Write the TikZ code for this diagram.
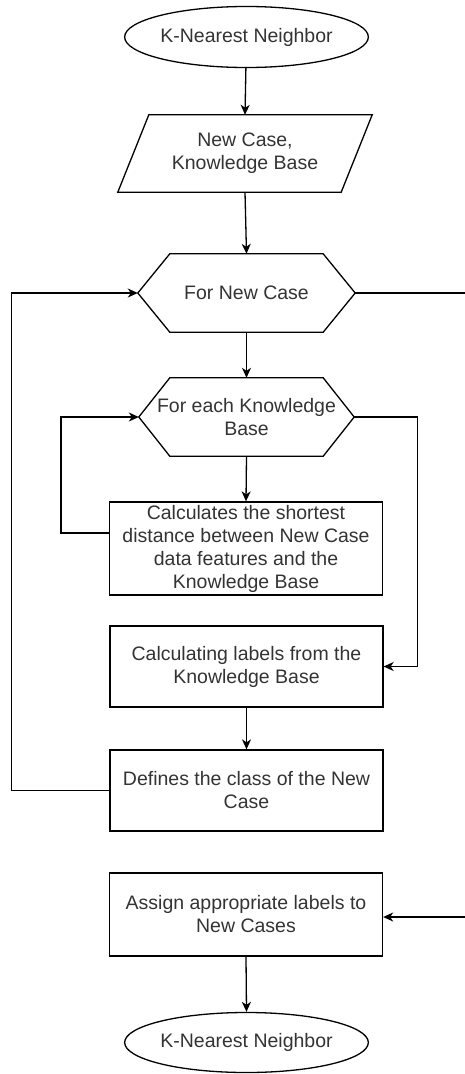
\documentclass[tikz,border=0pt]{standalone}
\usepackage{fontspec}
\setmainfont{Liberation Sans}
\usetikzlibrary{arrows.meta,shapes.geometric,calc}
\definecolor{txt}{HTML}{333333}
\begin{document}
\begin{tikzpicture}[x=1pt,y=-1pt,
  every node/.style={font=\fontsize{19.5}{23}\selectfont, text=txt, align=center, inner sep=0pt},
  term/.style={ellipse, draw, line width=1.3pt, minimum width=202pt, minimum height=61pt},
  procbox/.style={rectangle, draw, line width=1.3pt, minimum width=273pt},
  ghost/.style={rectangle, draw=none},
  edge/.style={line width=1.3pt},
  arr/.style={line width=1.3pt, -{Stealth[length=10pt,width=9pt,inset=3pt]}}
]
\useasboundingbox (0,0) rectangle (465,1074);

\node[term] (start) at (246.5,37) {K-Nearest Neighbor};

\node[ghost, minimum width=254pt, minimum height=77pt] (input) at (245,153.5) {New Case,\\Knowledge Base};
\draw[edge] ([xshift=31pt]input.north west) -- (input.north east) -- ([xshift=-31pt]input.south east) -- (input.south west) -- cycle;

\node[ghost, minimum width=217pt, minimum height=78pt] (hexa) at (246.5,293) {For New Case};
\draw[edge] (hexa.west) -- ([xshift=32pt]hexa.north west) -- ([xshift=-32pt]hexa.north east) -- (hexa.east) -- ([xshift=-32pt]hexa.south east) -- ([xshift=32pt]hexa.south west) -- cycle;

\node[ghost, minimum width=215pt, minimum height=78pt] (hexb) at (246.5,417) {For each Knowledge\\Base};
\draw[edge] (hexb.west) -- ([xshift=31pt]hexb.north west) -- ([xshift=-31pt]hexb.north east) -- (hexb.east) -- ([xshift=-31pt]hexb.south east) -- ([xshift=31pt]hexb.south west) -- cycle;

\node[procbox, minimum height=93pt] (calc) at (246,548.5) {Calculates the shortest\\distance between New Case\\data features and the\\Knowledge Base};
\node[procbox, minimum height=81pt] (labels) at (246.5,666.5) {Calculating labels from the\\Knowledge Base};
\node[procbox, minimum height=81pt] (defines) at (246.5,790.5) {Defines the class of the New\\Case};
\node[procbox, minimum height=83pt] (assign) at (246,914.5) {Assign appropriate labels to\\New Cases};
\node[term, minimum height=60pt] (stop) at (246.5,1042.5) {K-Nearest Neighbor};

\coordinate (rout) at (466,293);
\coordinate (rin) at (466,917);

\draw[arr] (start) -- (input.north);
\draw[arr] (input.south) -- (hexa.north);
\draw[arr] (hexa.south) -- (hexb.north);
\draw[arr] (hexb.south) -- (calc.north);
\draw[arr] ([yshift=15.5pt]calc.west) -- ++(-48,0) |- (hexb.west);
\draw[arr] (hexb.east) -- ++(63,0) |- (labels.east);
\draw[arr] (labels.south) -- (defines.north);
\draw[arr] (defines.west) -- ++(-98,0) |- (hexa.west);
\draw[edge] (hexa.east) -- (rout);
\draw[arr] (rin) -- (rin -| assign.east);
\draw[arr] (assign.south) -- (stop.north);
\end{tikzpicture}
\end{document}
